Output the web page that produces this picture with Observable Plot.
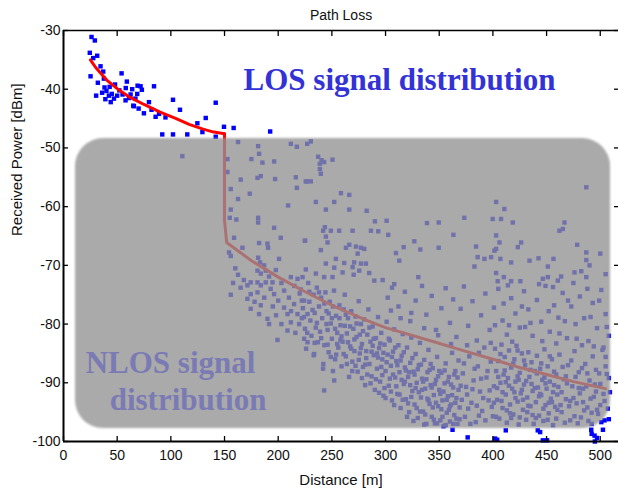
<!DOCTYPE html>
<html><head><meta charset="utf-8">
<script src="https://cdn.jsdelivr.net/npm/d3@7"></script>
<script src="https://cdn.jsdelivr.net/npm/@observablehq/plot@0.6"></script>
<style>
body{margin:0;background:#fff}
#chart svg{display:block}
g[aria-label="tick labels"] text{letter-spacing:0.3px}
g[aria-label="axis titles"] text{letter-spacing:0.9px}
g[aria-label="chart title"] text{letter-spacing:0.4px}
</style>
</head><body><div id="chart"></div>
<script>
const titleText = "Path Loss";
const xLabel = "Distance [m]";
const yLabel = "Received Power [dBm]";
const xDomain = [0, 517];
const yDomain = [-100, -30];
const xTicks = [0, 50, 100, 150, 200, 250, 300, 350, 400, 450, 500];
const yTicks = [-100, -90, -80, -70, -60, -50, -40, -30];

// measured samples in the LOS part (above the grey region)
const losPoints = [[26.1,-31.1],[29.2,-31.7],[24.5,-33.8],[31.4,-34.3],[27.7,-34.7],[34.5,-36.1],[25.2,-37.8],[54.1,-37.3],[32,-38.9],[37.6,-38.2],[38.2,-39.7],[30.4,-41.1],[42.3,-41.1],[50,-41.1],[64,-40],[71.8,-39.5],[84.3,-39.5],[68.7,-40.8],[57.8,-41.9],[65,-42.8],[79.6,-42.2],[74.9,-44.1],[89,-44.2],[102,-41.8],[108.5,-43.5],[141.8,-42.3],[132.5,-44.9],[124.7,-45.8],[149.5,-46.4],[158.5,-46.6],[92,-47.7],[102,-47.7],[115.3,-47.7],[129.4,-47.3],[141.8,-48.1],[192.5,-47.2],[62.5,-40.9],[65.6,-42.9],[85.8,-44.7],[95,-44.8],
[40,-40.3],[43,-39.6],[45,-40.8],[47,-41.6],[52,-40.2],[55,-40.9],[36,-40.6],[39,-41.7],[48,-39.2],[58,-39.8],[61,-41.5],[67,-41.6],[69,-39.4],[73,-40.1],[44,-42.2],[37,-37],[70,-43.3],[82,-43.5],[59,-38.7]];

// samples below the grey region (bottom edge)
const edgePoints = [[362.4,-98],[376.5,-99.3],[402,-99.5],[404,-99.7],[412,-98.1],[441.8,-98.1],[444,-98.4],[446.5,-99.8],[450.5,-99.8],[491.6,-98],[494.7,-99],[492,-98.7],[497,-99.4],[495,-100],[502.5,-98]];

// NLOS samples
const nlosPoints = [[110.7,-51.4],[162.6,-49],[181.3,-49.7],[182.2,-51],[175,-51.9],[185.3,-52.5],[196.2,-52.3],[211.8,-49.3],[217.4,-49.8],[227,-49.3],[152.7,-51.9],[152.7,-54.1],[165.1,-55.4],[183.8,-54.8],[180.7,-55.1],[197.1,-55.3],[216.4,-55],[226.7,-55.7],[217.4,-56.8],[155.8,-57],[173.5,-57.8],[162.6,-58.7],[209.2,-59.8],[155.8,-60.5],[154.9,-61.9],[161,-62.2],[181.3,-61.9],[181.3,-62.7],[196.2,-63.6],[202.4,-65.3],[225.1,-65.8],[158.9,-65.3],[182.2,-66.2],[190,-66.3],[190.6,-67],[166.7,-67],[154.2,-67.8],[155.8,-68.4],[181.3,-68.7],[200.8,-68.9],[183.1,-69.5],[186.9,-70],[180.7,-70.9],[188.4,-70.9],[183.8,-71.4],[191.5,-71.9],[197.8,-70.8],[162.6,-71.6],[174.4,-72.9],[180.7,-72.9],[194.7,-72.9],[211.8,-72],[218,-72.3],[222.7,-72],[225.7,-70.7],
[230.4,-48.9],[237.2,-51.5],[240.4,-52.1],[242.8,-52.4],[238.8,-52.7],[238.8,-53.6],[239.7,-54.4],[250.6,-52],[225.7,-55.7],[230.4,-55.7],[258.4,-57.7],[266.2,-58],[235.1,-59.2],[252.2,-59.2],[244.4,-60.5],[266.2,-60.5],[282.4,-60.7],[290.1,-62.5],[301,-62.4],[338.6,-62.8],[349.5,-62.7],[243.5,-63.5],[241.9,-64.1],[249.1,-64.1],[256.8,-64.1],[269.3,-64.1],[286.4,-64.1],[293.2,-64.2],[302.5,-64.8],[363.2,-64.8],[224.8,-65.8],[244.4,-65.1],[246,-66.1],[326.8,-65.9],[332.4,-67.3],[349.5,-67],[316.9,-66.9],[309.7,-67.9],[312.8,-69.2],[239.7,-67.4],[263.1,-67],[266.2,-66.5],[272.4,-66.8],[277.1,-67],[280.2,-67.2],[274,-68],[253.7,-68.9],[261.5,-69.6],[244.4,-69.7],[252.2,-70.4],[270.8,-69.5],[277.1,-69.7],[281.7,-69.7],[269.3,-70.3],[275.5,-70.9],[284.8,-71.3],[289.5,-72.6],[297.3,-72.5],[330.5,-72],[235.1,-71.4],[242.8,-72],[250.6,-72],[260,-71.2],[270.3,-71.6],[308.1,-73.2],
[487,-56.7],[403,-59.2],[410.7,-60.4],[373.4,-61.9],[399.8,-62.1],[407.6,-62.1],[418.5,-62.7],[466.7,-62.7],[465.2,-63.8],[462,-64.1],[403,-64.9],[406.1,-66.1],[403,-67.2],[401.4,-67.5],[426.3,-66.1],[423.2,-66.9],[384.3,-66.8],[478.5,-66.5],[385.8,-68.6],[392.1,-68.9],[398.3,-68.6],[407,-68.9],[417,-69.5],[434.1,-69.2],[442.5,-68.8],[456.4,-68.9],[451.2,-70.2],[487,-67.8],[487,-69.1],[490,-70],[476,-71.2],[482.3,-71],[487,-72],[463.6,-71.9],[451.2,-72],[446.5,-72.3],[460.5,-72.6],[403,-71.3],[410.2,-72],[417,-72.7],[425.6,-72.7],[404.5,-72.7],[382.8,-70.2],[505,-71.5],[500,-68],
[155.8,-75],[171.3,-73.4],[174.4,-74.9],[180.7,-74.6],[183.8,-73.4],[188.4,-72.9],[171.3,-75.7],[174.4,-77.4],[182.2,-78.3],[183.8,-76.8],[190,-79.1],[191.5,-80],[199.3,-82.7],[208.7,-81.1],[211.8,-79.7],[219.5,-80],[224.2,-82.5],[227.3,-83.1],[218,-78.3],[205.5,-77.2],[196.2,-74.9],[205.5,-74.3],[214.8,-76.6],[224.2,-76],[227.3,-78.3],[208.7,-78.3],
[193,-74],[200,-76],[203,-73],[210,-75.5],[215,-73.5],[220,-74.8],[198,-78.5],[212,-77.8],[222,-79],[216,-81.5],[203,-80],[195,-77],[187,-75.5],[178,-76.2],[165,-73.8],[168,-72.5],[160,-70.5],[158,-73],
[221,-74.1],[223,-77.3],[225,-80.8],[226,-84.2],[228,-73],[229,-76.2],[230,-79.4],[231,-82],[233,-75],[233,-85.3],[234,-78.1],[235,-80.6],[236,-73.8],[237,-83.1],[238,-77],[239,-81.3],[240,-75.5],[241,-79],[242,-86.8],[243,-83.6],[244,-74.6],[245,-77.8],[246,-81],[247,-84.8],[248,-76.2],[249,-79.9],[250,-82.5],[251,-88],[252,-74.3],[253,-86],[254,-78.6],[255,-81.5],[256,-84],[257,-76.8],[258,-80.2],[259,-87.2],[260,-83],[261,-77.5],[262,-75],[263,-85.5],[264,-81.6],[265,-79],[266,-89],[267,-83.8],[268,-77.8],[269,-86.4],[270,-80.8],[271,-84.6],[272,-78.7],[273,-82.2],[274,-88.1],[275,-76.1],[276,-85],[277,-80],[278,-83.4],[279,-87.3],[280,-79.2],[281,-90.4],[282,-84.6],[283,-81.8],[284,-77.5],[285,-86.8],[286,-83],[287,-88.9],[288,-80.4],[289,-85.3],[290,-91.2],[291,-82.4],[292,-87.6],[293,-78.8],[294,-84.1],[295,-89.8],[296,-81.5],[297,-86],[298,-92.2],[299,-83.5],[300,-88],
[301,-79.6],[302,-85.2],[303,-90.5],[304,-82.8],[305,-87.1],[306,-93],[307,-84.7],[308,-80.9],[309,-89.1],[310,-86.3],[311,-91.9],[312,-83.6],[313,-88.2],[314,-94.3],[315,-85.4],[316,-81.7],[317,-90.2],[318,-87.4],[319,-92.8],[320,-84],[321,-89],[322,-95],[323,-86.6],[324,-82.3],[325,-91.4],[326,-88.1],[327,-93.7],[328,-85.1],[329,-90],[330,-96],[331,-87],[332,-83.2],[333,-92.5],[334,-89.3],[335,-94.9],[336,-86.1],[337,-91],[338,-97],[339,-88.2],[340,-84.4],[341,-93.6],[342,-90.4],[343,-95.8],[344,-87.5],[345,-92.1],[346,-96.9],[347,-89.5],[348,-85.6],[349,-94],[350,-91.2],[351,-96.4],[352,-88.3],[353,-93],[354,-97.4],[355,-90.1],[356,-86.7],[357,-95.1],[358,-92.3],[359,-89],[360,-96.6],[361,-93.7],[362,-84.9],[363,-90.8],[364,-95.5],[365,-88],[366,-92.6],[367,-97],[368,-86.2],[369,-94.2],[370,-90.5],
[372,-88.4],[374,-95.8],[376,-92],[378,-85.5],[380,-93.4],[382,-89.6],[384,-96.7],[386,-87.2],[388,-91.5],[390,-94.8],[392,-84],[394,-89.1],[396,-93],[398,-86.4],[400,-95.7],
[401,-90.6],[402,-84.2],[403,-88],[404,-92.9],[405,-86.3],[406,-96.1],[407,-90],[408,-83.5],[409,-94.3],[410,-88.6],[411,-85.6],[412,-92],[413,-96.8],[414,-89.2],[415,-84.5],[416,-93.7],[417,-87.4],[418,-91],[419,-95.4],[420,-86],[421,-89.8],[422,-83.7],[423,-93.2],[424,-97.1],[425,-88.3],[426,-91.8],[427,-85],[428,-94.6],[429,-90.3],[430,-87],[431,-96.3],[432,-92.5],[433,-84.8],[434,-89],[435,-94],[436,-86.5],[437,-91.4],[438,-97],[439,-88],[440,-93.3],[441,-85.4],[442,-90.8],[443,-95.6],[444,-87.6],[445,-92.1],[446,-89.5],[447,-96.5],[448,-84.3],[449,-93.8],[450,-91],[451,-87.2],[452,-95.2],[453,-89.8],[454,-92.7],[455,-86],[456,-97.2],[457,-90.4],[458,-94.1],[459,-88.6],[460,-92],
[462,-85.2],[464,-95],[466,-89.4],[468,-92.8],[470,-87],[472,-96.4],[474,-90.6],[476,-84.6],[478,-93.5],[480,-88.2],[482,-95.9],[484,-91],[486,-86.8],[488,-94.2],[490,-89.6],[492,-97],[494,-92.4],[496,-87.8],[498,-95.3],[500,-90.2],[502,-84.4],[504,-93.1],[506,-88.5],[508,-96.2],[509,-91.6],
[302,-75.5],[306,-73.8],[312,-77],[318,-74.5],[323,-79.5],[328,-76],[334,-73.5],[338,-78.4],[343,-75.2],[347,-81],[352,-77.3],[356,-73.9],[360,-79.8],[363,-75.8],[366,-82.2],[370,-77.4],[373,-73.6],[377,-80.3],[381,-76.1],[385,-82.8],[389,-78.5],[393,-74.8],[397,-81],[401,-77.2],[405,-74],[409,-79.4],[413,-81.8],[417,-75.6],[421,-78.2],[425,-80.6],[429,-74.4],[433,-77.5],[437,-82],[441,-75.9],[445,-79.6],[449,-73.5],[453,-81.3],[457,-76.8],[461,-78.9],[465,-74.7],[469,-82.4],[473,-77],[477,-80],[481,-75.3],[485,-79],[489,-82.9],[493,-76.4],[497,-80.7],[501,-74.2],[505,-78.3],[508,-82],
[402,-80.2],[410,-76.5],[418,-83],[427,-77],[435,-79.8],[443,-73.2],[452,-77.8],[459,-83.3],[467,-79.5],[475,-73],[483,-83.6],[491,-78.8],[499,-76],[506,-80.5],[414,-73.4],[470,-76],[488,-74],[503,-84],[456,-73.7],[423,-84.5],
[401,-93.4],[403,-95.8],[405,-89],[407,-85.1],[409,-91.6],[411,-87.9],[413,-94.7],[415,-90.5],[417,-96],[419,-86.7],[421,-92.6],[423,-88.9],[425,-95.9],[427,-91.2],[429,-86.2],[431,-89.7],[433,-93.9],[435,-87.8],[437,-95.5],[439,-90.9],[441,-88.4],[443,-92.3],[445,-86.7],[447,-94.4],[449,-90.1],[451,-96.3],[453,-85.5],[455,-93.3],[457,-88.1],[459,-96.1],[461,-90.7],[463,-93.8],[465,-87.3],[467,-96.8],[469,-90.1],[471,-94],[473,-86.2],[475,-92.6],[477,-89],[479,-96.9],[481,-91.8],[483,-87.5],[485,-94.7],[487,-90.6],[489,-96.5],[491,-92.7],[493,-85.5],[495,-90.3],[497,-94.6],[499,-88.4],[501,-96.7],[503,-91.9],[505,-87.2],[507,-94.4],
[301,-86.5],[303,-82.5],[305,-91.5],[307,-88.6],[309,-84],[311,-87],[313,-92],[315,-89.5],[317,-84.8],[319,-87.9],[321,-93.5],[323,-90.4],[325,-85.8],[327,-88.6],[329,-94.3],[331,-91.6],[333,-86.9],[335,-89.8],[337,-95.4],[339,-92.7],[341,-87.8],[343,-90.8],[345,-96.3],[347,-93.4],[349,-88.9],[351,-91.9],[353,-95.8],[355,-87.9],[357,-92.9],[359,-94.6],[361,-90.3],[363,-97],[365,-93.4],[367,-89.1],[369,-96.2],[371,-92.9],[373,-86.7],[375,-90.7],[377,-94.4],[379,-97],[381,-91.1],[383,-87.6],[385,-93.9],[387,-95.6],[389,-89.3],[391,-92.6],[393,-96.4],[395,-88],[397,-91.3],[399,-94.1],
[222,-76],[224,-78.8],[227,-81.5],[229,-74.5],[232,-77.6],[234,-83.2],[236,-79.8],[238,-74.6],[240,-82.4],[243,-76.5],[245,-80],[247,-78.2],[249,-85.6],[251,-77],[253,-80.8],[255,-83.4],[257,-79],[259,-82.1],[261,-85.1],[263,-78.4],[265,-83.1],[267,-80.4],[269,-88],[271,-82.6],[273,-79.9],[275,-86.1],[277,-84.1],[279,-81.2],[281,-86.9],[283,-88.6],[285,-80.6],[287,-84.7],[289,-82.5],[291,-89.4],[293,-85.7],[295,-83.3],[297,-88.7],[299,-90.9],
[242.8,-91.3],[252.2,-89.6],[241.8,-87.6],[233.5,-85.1],
[246,-83.5],[250,-79],[254,-85.2],[258,-82.7],[262,-80.3],[264,-86.8],[268,-84.2],[272,-87.1],[276,-81.8],[278,-89.2],[282,-85.8],[286,-90.1],[288,-83.7],[292,-85],[294,-91.7],[296,-87.3],[298,-84.9],[300,-92.6],[304,-89.3],[306,-85.6],[308,-93.8],[310,-90.6],[314,-86.2],[316,-92.9],[318,-89.8],[320,-95.8],[322,-88.2],[324,-92.4],[326,-96.5],[328,-90.9],[330,-87.7],[332,-94.9],[334,-91.2],[336,-97.1],[338,-89.4],[340,-93],[342,-86.8],[344,-94.2],[346,-90.2],[348,-96.9],[350,-88],[352,-94.5],[354,-91.5],[356,-97.2],[358,-89.8],[360,-94],[362,-92.1],[364,-88.6],[366,-96.1],[368,-91.2],
[404,-90.9],[408,-93.1],[412,-89.9],[416,-95.2],[420,-91.6],[424,-89.5],[428,-92.9],[432,-95],[436,-90.2],[440,-96],[444,-91.9],[448,-89.1],[452,-93.4],[456,-91.6],[460,-94.6],[464,-91.6],[468,-88.9],[472,-93.1],[476,-95.7],[480,-90.9],[484,-93.3],[488,-88.4],[492,-95.1],[496,-91.5],[500,-93.8],[504,-96.4],[508,-89.2],
[430,-80.5],[446,-82.9],[462,-81.6],[478,-82.5],[494,-83.8],[505,-85.6],[415,-80.2],[398,-83.2],[387,-84.9],[376,-83.6],[361,-83.4],[349,-81.9],[336,-80.7],[324,-78.1],[314,-79],[305,-77.7]];

// fitted path loss curves
const losFit = [[25,-35],[30,-36.3],[40,-38.4],[50,-39.9],[62,-41.4],[75,-42.6],[90,-43.9],[105,-45],[117,-46],[130,-46.8],[140,-47.3],[150,-47.6]];
const nlosFit = [[150,-47.6],[150,-62.4],[152,-66.1],[175,-69.2],[200,-72],[225,-74.5],[250,-76.8],[283,-79.4],[300,-80.6],[345,-83],[370,-84.4],[400,-86],[423,-87.3],[450,-88.6],[475,-89.8],[505,-91]];

// grey NLOS region and annotation texts
const nlosRegion = [{x1: 11.2, x2: 509.6, y1: -97.8, y2: -48.4}];
const losText = [{text: "LOS signal distribution", x: 313, y: -40.2}];
const nlosText = [{text: "NLOS signal", x: 99.7, y: -88.4}, {text: "distribution", x: 116, y: -94.6}];

const px = d => d[0], py = d => d[1];
const sans = "Liberation Sans, Arial, sans-serif";
const serif = "Liberation Serif, Times New Roman, serif";

const chart = Plot.plot({
  width: 618, height: 489,
  marginTop: 30, marginRight: 0, marginBottom: 48, marginLeft: 63,
  style: {fontFamily: sans, fontSize: "14px", background: "#fff", color: "#000", overflow: "visible"},
  x: {domain: xDomain},
  y: {domain: yDomain},
  marks: [
    Plot.dot(losPoints, {x: px, y: py, symbol: "square", r: 2.5, fill: "#0000ff"}),
    Plot.dot(nlosPoints, {x: px, y: py, symbol: "square", r: 2.5, fill: "#0000ff"}),
    Plot.dot(edgePoints, {x: px, y: py, symbol: "square", r: 2.5, fill: "#0000ff"}),
    Plot.line(losFit, {x: px, y: py, stroke: "#ff0000", strokeWidth: 3}),
    Plot.line(nlosFit, {x: px, y: py, stroke: "#ff0000", strokeWidth: 3}),
    Plot.rect(nlosRegion, {x1: "x1", x2: "x2", y1: "y1", y2: "y2", fill: "#929292", fillOpacity: 0.78, rx: 28, imageFilter: "blur(1.2px)"}),
    Plot.text(losText, {x: "x", y: "y", text: "text", fill: "#3232d6", fontFamily: serif, fontWeight: "bold", fontSize: 31, lineAnchor: "bottom"}),
    Plot.text(nlosText, {x: "x", y: "y", text: "text", fill: "#7a7ab4", fontFamily: serif, fontWeight: "bold", fontSize: 31, lineAnchor: "bottom"}),
    Plot.ruleX([xDomain[0]], {stroke: "#000", strokeWidth: 2}),
    Plot.ruleY([yDomain[0]], {stroke: "#000", strokeWidth: 2}),
    Plot.ruleY([yDomain[1]], {stroke: "#000", strokeWidth: 1.5}),
    Plot.axisX(xTicks, {anchor: "bottom", tickSize: -5, tickFormat: () => "", label: null, stroke: "#000", strokeWidth: 1.3}),
    Plot.axisX(xTicks, {anchor: "top", tickSize: -5, tickFormat: () => "", label: null, stroke: "#000", strokeWidth: 1.3}),
    Plot.axisY(yTicks, {anchor: "left", tickSize: -5, tickFormat: () => "", label: null, stroke: "#000", strokeWidth: 1.3}),
    Plot.axisY(yTicks, {anchor: "right", tickSize: -5, tickFormat: () => "", label: null, stroke: "#000", strokeWidth: 1.3}),
    Plot.text(xTicks, {x: d => d, frameAnchor: "bottom", dy: 18, lineAnchor: "bottom", text: d => String(d), fontSize: 14, fill: "#111", ariaLabel: "tick labels"}),
    Plot.text(yTicks, {y: d => d, frameAnchor: "left", dx: -3, textAnchor: "end", lineAnchor: "middle", text: d => String(d), fontSize: 14, fill: "#111", ariaLabel: "tick labels"}),
    Plot.text([titleText], {frameAnchor: "top", dy: -11, lineAnchor: "bottom", text: d => d, fontSize: 14, fill: "#111", ariaLabel: "chart title"}),
    Plot.text([xLabel], {frameAnchor: "bottom", dy: 43, lineAnchor: "bottom", text: d => d, fontSize: 15, fill: "#111", ariaLabel: "axis titles"}),
    Plot.text([yLabel], {frameAnchor: "left", dx: -42, rotate: -90, lineAnchor: "bottom", text: d => d, fontSize: 15, fill: "#111", ariaLabel: "axis titles"})
  ]
});
document.getElementById("chart").appendChild(chart);
</script>
</body></html>
